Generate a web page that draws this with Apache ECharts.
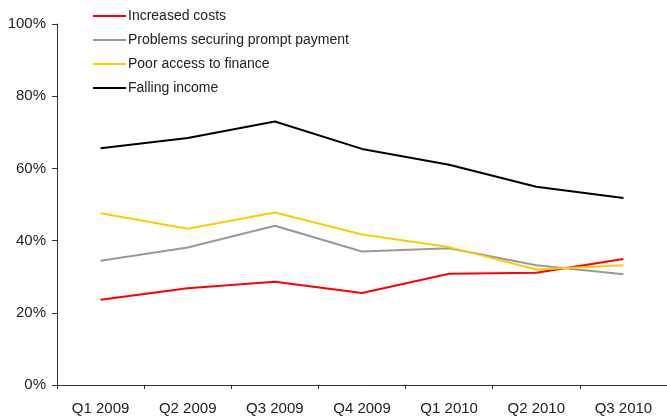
<!DOCTYPE html>
<html>
<head>
<meta charset="utf-8">
<script src="https://cdn.jsdelivr.net/npm/echarts@6/dist/echarts.min.js"></script>
<style>html,body{margin:0;padding:0;background:#fff;}#c{width:667px;height:416px;}</style>
</head>
<body>
<div id="c"></div>
<script>
const categories = ['Q1 2009','Q2 2009','Q3 2009','Q4 2009','Q1 2010','Q2 2010','Q3 2010'];
const increasedCosts = [23.6, 26.8, 28.6, 25.5, 30.8, 31.1, 34.9];
const promptPayment = [34.4, 38.1, 44.1, 37.0, 37.9, 33.2, 30.7];
const poorFinance = [47.6, 43.3, 47.8, 41.7, 38.2, 32.0, 33.2];
const fallingIncome = [65.6, 68.4, 73.0, 65.4, 61.0, 54.9, 51.8];
const seriesNames = ['Increased costs','Problems securing prompt payment','Poor access to finance','Falling income'];
const colors = ['#ff0000','#999999','#ffcc00','#000000'];
const font = 'Liberation Sans';
const chart = echarts.init(document.getElementById('c'));
const mk = (name, data, color) => ({
  name, type:'line', data, symbol:'none', color,
  lineStyle:{width:2, color}, animation:false
});
chart.setOption({
  animation:false,
  legend:{
    orient:'vertical', left:88, top:4, itemWidth:33, itemHeight:2, icon:'rect',
    itemGap:10, textStyle:{fontFamily:font, fontSize:14, color:'#222', lineHeight:14, padding:[0,0,0,-3]},
    data: seriesNames
  },
  grid:{left:57, right:0, top:24, bottom:31, containLabel:false},
  xAxis:{
    type:'category', data:categories, boundaryGap:true,
    axisLine:{lineStyle:{color:'#333', width:1}},
    axisTick:{show:true, length:4, lineStyle:{color:'#333'}},
    axisLabel:{fontFamily:font, fontSize:15, color:'#222', margin:16}
  },
  yAxis:{
    type:'value', min:0, max:100, interval:20,
    axisLine:{show:true, lineStyle:{color:'#333', width:1}},
    axisTick:{show:true, length:5, lineStyle:{color:'#333'}},
    splitLine:{show:false},
    axisLabel:{fontFamily:font, fontSize:15, color:'#222', formatter:'{value}%', margin:11}
  },
  series:[
    mk(seriesNames[0], increasedCosts, colors[0]),
    mk(seriesNames[1], promptPayment, colors[1]),
    mk(seriesNames[2], poorFinance, colors[2]),
    mk(seriesNames[3], fallingIncome, colors[3])
  ]
});
</script>
</body>
</html>
